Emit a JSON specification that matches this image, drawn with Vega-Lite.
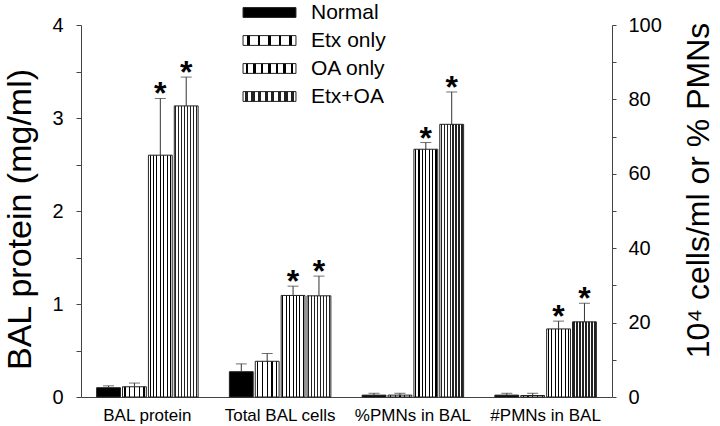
{
  "$schema": "https://vega.github.io/schema/vega-lite/v6.json",
  "width": 531,
  "height": 372,
  "autosize": {"type": "none"},
  "padding": {"left": 81, "top": 25, "right": 108, "bottom": 29},
  "background": "white",
  "config": {
    "font": "Liberation Sans",
    "view": {"stroke": null},
    "axis": {"grid": false, "domainColor": "#444", "tickColor": "#444", "labelColor": "black", "titleColor": "black", "titleFontWeight": "normal", "labelFont": "Liberation Sans", "titleFont": "Liberation Sans"},
    "legend": {"labelFont": "Liberation Sans", "labelColor": "black"}
  },
  "data": {
    "values": [
      {"measure": "BAL protein", "group": "Normal", "value": 0.10, "hi": 0.12, "sig": ""},
      {"measure": "BAL protein", "group": "Etx only", "value": 0.11, "hi": 0.15, "sig": ""},
      {"measure": "BAL protein", "group": "OA only", "value": 2.60, "hi": 3.21, "sig": "*"},
      {"measure": "BAL protein", "group": "Etx+OA", "value": 3.13, "hi": 3.44, "sig": "*"},
      {"measure": "Total BAL cells", "group": "Normal", "value": 6.8, "hi": 8.9, "sig": ""},
      {"measure": "Total BAL cells", "group": "Etx only", "value": 9.6, "hi": 11.7, "sig": ""},
      {"measure": "Total BAL cells", "group": "OA only", "value": 27.3, "hi": 29.8, "sig": "*"},
      {"measure": "Total BAL cells", "group": "Etx+OA", "value": 27.2, "hi": 32.5, "sig": "*"},
      {"measure": "%PMNs in BAL", "group": "Normal", "value": 0.5, "hi": 1.0, "sig": ""},
      {"measure": "%PMNs in BAL", "group": "Etx only", "value": 0.5, "hi": 1.0, "sig": ""},
      {"measure": "%PMNs in BAL", "group": "OA only", "value": 66.6, "hi": 68.4, "sig": "*"},
      {"measure": "%PMNs in BAL", "group": "Etx+OA", "value": 73.3, "hi": 82.0, "sig": "*"},
      {"measure": "#PMNs in BAL", "group": "Normal", "value": 0.5, "hi": 1.0, "sig": ""},
      {"measure": "#PMNs in BAL", "group": "Etx only", "value": 0.4, "hi": 1.0, "sig": ""},
      {"measure": "#PMNs in BAL", "group": "OA only", "value": 18.3, "hi": 20.4, "sig": "*"},
      {"measure": "#PMNs in BAL", "group": "Etx+OA", "value": 20.2, "hi": 25.2, "sig": "*"}
    ]
  },
  "encoding": {
    "x": {
      "field": "measure", "type": "nominal", "sort": null,
      "scale": {"domain": ["BAL protein", "Total BAL cells", "%PMNs in BAL", "#PMNs in BAL"], "paddingInner": 0.22, "paddingOuter": 0.11},
      "axis": {"title": null, "labelAngle": 0, "ticks": false, "tickSize": 0, "labelFontSize": 17, "labelPadding": 10, "domainColor": "#444"}
    },
    "xOffset": {
      "field": "group", "type": "nominal", "sort": null,
      "scale": {"domain": ["Normal", "Etx only", "OA only", "Etx+OA"], "paddingInner": 0.08, "paddingOuter": 0.04}
    },
    "fill": {
      "field": "group", "type": "nominal",
      "scale": {"domain": ["Normal", "Etx only", "OA only", "Etx+OA"], "range": [
        "black",
        {"expr": "{gradient:'linear',x1:0,y1:0,x2:1,y2:0,stops:[{offset:0,color:'#fff'},{offset:0.075,color:'#fff'},{offset:0.075,color:'#000'},{offset:0.125,color:'#000'},{offset:0.125,color:'#fff'},{offset:0.275,color:'#fff'},{offset:0.275,color:'#000'},{offset:0.325,color:'#000'},{offset:0.325,color:'#fff'},{offset:0.475,color:'#fff'},{offset:0.475,color:'#000'},{offset:0.525,color:'#000'},{offset:0.525,color:'#fff'},{offset:0.675,color:'#fff'},{offset:0.675,color:'#000'},{offset:0.725,color:'#000'},{offset:0.725,color:'#fff'},{offset:0.875,color:'#fff'},{offset:0.875,color:'#000'},{offset:0.925,color:'#000'},{offset:0.925,color:'#fff'},{offset:1,color:'#fff'}]}"},
        {"expr": "{gradient:'linear',x1:0,y1:0,x2:1,y2:0,stops:[{offset:0,color:'#fff'},{offset:0.049,color:'#fff'},{offset:0.049,color:'#000'},{offset:0.094,color:'#000'},{offset:0.094,color:'#fff'},{offset:0.192,color:'#fff'},{offset:0.192,color:'#000'},{offset:0.237,color:'#000'},{offset:0.237,color:'#fff'},{offset:0.335,color:'#fff'},{offset:0.335,color:'#000'},{offset:0.38,color:'#000'},{offset:0.38,color:'#fff'},{offset:0.478,color:'#fff'},{offset:0.478,color:'#000'},{offset:0.522,color:'#000'},{offset:0.522,color:'#fff'},{offset:0.62,color:'#fff'},{offset:0.62,color:'#000'},{offset:0.665,color:'#000'},{offset:0.665,color:'#fff'},{offset:0.763,color:'#fff'},{offset:0.763,color:'#000'},{offset:0.808,color:'#000'},{offset:0.808,color:'#fff'},{offset:0.906,color:'#fff'},{offset:0.906,color:'#000'},{offset:0.951,color:'#000'},{offset:0.951,color:'#fff'},{offset:1,color:'#fff'}]}"},
        {"expr": "{gradient:'linear',x1:0,y1:0,x2:1,y2:0,stops:[{offset:0,color:'#fff'},{offset:0.0325,color:'#fff'},{offset:0.0325,color:'#222'},{offset:0.0925,color:'#222'},{offset:0.0925,color:'#fff'},{offset:0.1575,color:'#fff'},{offset:0.1575,color:'#222'},{offset:0.2175,color:'#222'},{offset:0.2175,color:'#fff'},{offset:0.2825,color:'#fff'},{offset:0.2825,color:'#222'},{offset:0.3425,color:'#222'},{offset:0.3425,color:'#fff'},{offset:0.4075,color:'#fff'},{offset:0.4075,color:'#222'},{offset:0.4675,color:'#222'},{offset:0.4675,color:'#fff'},{offset:0.5325,color:'#fff'},{offset:0.5325,color:'#222'},{offset:0.5925,color:'#222'},{offset:0.5925,color:'#fff'},{offset:0.6575,color:'#fff'},{offset:0.6575,color:'#222'},{offset:0.7175,color:'#222'},{offset:0.7175,color:'#fff'},{offset:0.7825,color:'#fff'},{offset:0.7825,color:'#222'},{offset:0.8425,color:'#222'},{offset:0.8425,color:'#fff'},{offset:0.9075,color:'#fff'},{offset:0.9075,color:'#222'},{offset:0.9675,color:'#222'},{offset:0.9675,color:'#fff'},{offset:1,color:'#fff'}]}"}
      ]},
      "legend": {"title": null, "orient": "none", "legendX": 178, "legendY": -23, "padding": 0, "symbolType": "M-2.7,-0.5H2.7V0.5H-2.7Z", "symbolSize": 384, "symbolStrokeColor": "#222", "symbolStrokeWidth": 1, "labelFontSize": 21, "labelOffset": 31, "rowPadding": 6}
    }
  },
  "layer": [
    {
      "transform": [{"filter": "datum.measure === 'BAL protein'"}],
      "layer": [
        {"mark": {"type": "bar", "stroke": "#222", "strokeWidth": 1},
         "encoding": {"y": {"field": "value", "type": "quantitative", "scale": {"domain": [0, 4], "nice": false},
           "axis": {"orient": "left", "title": "BAL protein (mg/ml)", "titleFontSize": 34, "titlePadding": 14, "titleY": 194, "values": [0, 0.5, 1, 1.5, 2, 2.5, 3, 3.5, 4], "labelExpr": "datum.value % 1 === 0 ? format(datum.value, 'd') : ''", "labelFontSize": 20, "tickSize": 5, "labelPadding": 13}}}},
        {"mark": {"type": "rule", "color": "#333", "strokeWidth": 1},
         "encoding": {"y": {"field": "value", "type": "quantitative", "scale": {"domain": [0, 4], "nice": false},
           "axis": {"orient": "left", "title": "BAL protein (mg/ml)", "titleFontSize": 34, "titlePadding": 14, "titleY": 194, "values": [0, 0.5, 1, 1.5, 2, 2.5, 3, 3.5, 4], "labelExpr": "datum.value % 1 === 0 ? format(datum.value, 'd') : ''", "labelFontSize": 20, "tickSize": 5, "labelPadding": 13}},
           "y2": {"field": "hi"}, "fill": {"value": null}}},
        {"mark": {"type": "tick", "size": 11, "thickness": 1},
         "encoding": {"y": {"field": "hi", "type": "quantitative", "scale": {"domain": [0, 4], "nice": false},
           "axis": {"orient": "left", "title": "BAL protein (mg/ml)", "titleFontSize": 34, "titlePadding": 14, "titleY": 194, "values": [0, 0.5, 1, 1.5, 2, 2.5, 3, 3.5, 4], "labelExpr": "datum.value % 1 === 0 ? format(datum.value, 'd') : ''", "labelFontSize": 20, "tickSize": 5, "labelPadding": 13}},
           "fill": {"value": "#333"}}},
        {"mark": {"type": "text", "fontSize": 32, "fontWeight": "bold", "baseline": "alphabetic", "dy": 6},
         "encoding": {"y": {"field": "hi", "type": "quantitative", "scale": {"domain": [0, 4], "nice": false},
           "axis": {"orient": "left", "title": "BAL protein (mg/ml)", "titleFontSize": 34, "titlePadding": 14, "titleY": 194, "values": [0, 0.5, 1, 1.5, 2, 2.5, 3, 3.5, 4], "labelExpr": "datum.value % 1 === 0 ? format(datum.value, 'd') : ''", "labelFontSize": 20, "tickSize": 5, "labelPadding": 13}},
           "text": {"field": "sig"}, "fill": {"value": "black"}}}
      ]
    },
    {
      "transform": [{"filter": "datum.measure !== 'BAL protein'"}],
      "layer": [
        {"mark": {"type": "bar", "stroke": "#222", "strokeWidth": 1},
         "encoding": {"y": {"field": "value", "type": "quantitative", "scale": {"domain": [0, 100], "nice": false},
           "axis": {"orient": "right", "title": "10⁴ cells/ml or % PMNs", "titleFontSize": 32, "titleAngle": 270, "titleBaseline": "top", "titlePadding": 22, "titleY": 165, "values": [0, 10, 20, 30, 40, 50, 60, 70, 80, 90, 100], "labelExpr": "datum.value % 20 === 0 ? format(datum.value, 'd') : ''", "labelFontSize": 20, "tickSize": 4, "labelPadding": 12}}}},
        {"mark": {"type": "rule", "color": "#333", "strokeWidth": 1},
         "encoding": {"y": {"field": "value", "type": "quantitative", "scale": {"domain": [0, 100], "nice": false},
           "axis": {"orient": "right", "title": "10⁴ cells/ml or % PMNs", "titleFontSize": 32, "titleAngle": 270, "titleBaseline": "top", "titlePadding": 22, "titleY": 165, "values": [0, 10, 20, 30, 40, 50, 60, 70, 80, 90, 100], "labelExpr": "datum.value % 20 === 0 ? format(datum.value, 'd') : ''", "labelFontSize": 20, "tickSize": 4, "labelPadding": 12}},
           "y2": {"field": "hi"}, "fill": {"value": null}}},
        {"mark": {"type": "tick", "size": 11, "thickness": 1},
         "encoding": {"y": {"field": "hi", "type": "quantitative", "scale": {"domain": [0, 100], "nice": false},
           "axis": {"orient": "right", "title": "10⁴ cells/ml or % PMNs", "titleFontSize": 32, "titleAngle": 270, "titleBaseline": "top", "titlePadding": 22, "titleY": 165, "values": [0, 10, 20, 30, 40, 50, 60, 70, 80, 90, 100], "labelExpr": "datum.value % 20 === 0 ? format(datum.value, 'd') : ''", "labelFontSize": 20, "tickSize": 4, "labelPadding": 12}},
           "fill": {"value": "#333"}}},
        {"mark": {"type": "text", "fontSize": 32, "fontWeight": "bold", "baseline": "alphabetic", "dy": 6},
         "encoding": {"y": {"field": "hi", "type": "quantitative", "scale": {"domain": [0, 100], "nice": false},
           "axis": {"orient": "right", "title": "10⁴ cells/ml or % PMNs", "titleFontSize": 32, "titleAngle": 270, "titleBaseline": "top", "titlePadding": 22, "titleY": 165, "values": [0, 10, 20, 30, 40, 50, 60, 70, 80, 90, 100], "labelExpr": "datum.value % 20 === 0 ? format(datum.value, 'd') : ''", "labelFontSize": 20, "tickSize": 4, "labelPadding": 12}},
           "text": {"field": "sig"}, "fill": {"value": "black"}}}
      ]
    }
  ],
  "resolve": {"scale": {"y": "independent"}}
}
